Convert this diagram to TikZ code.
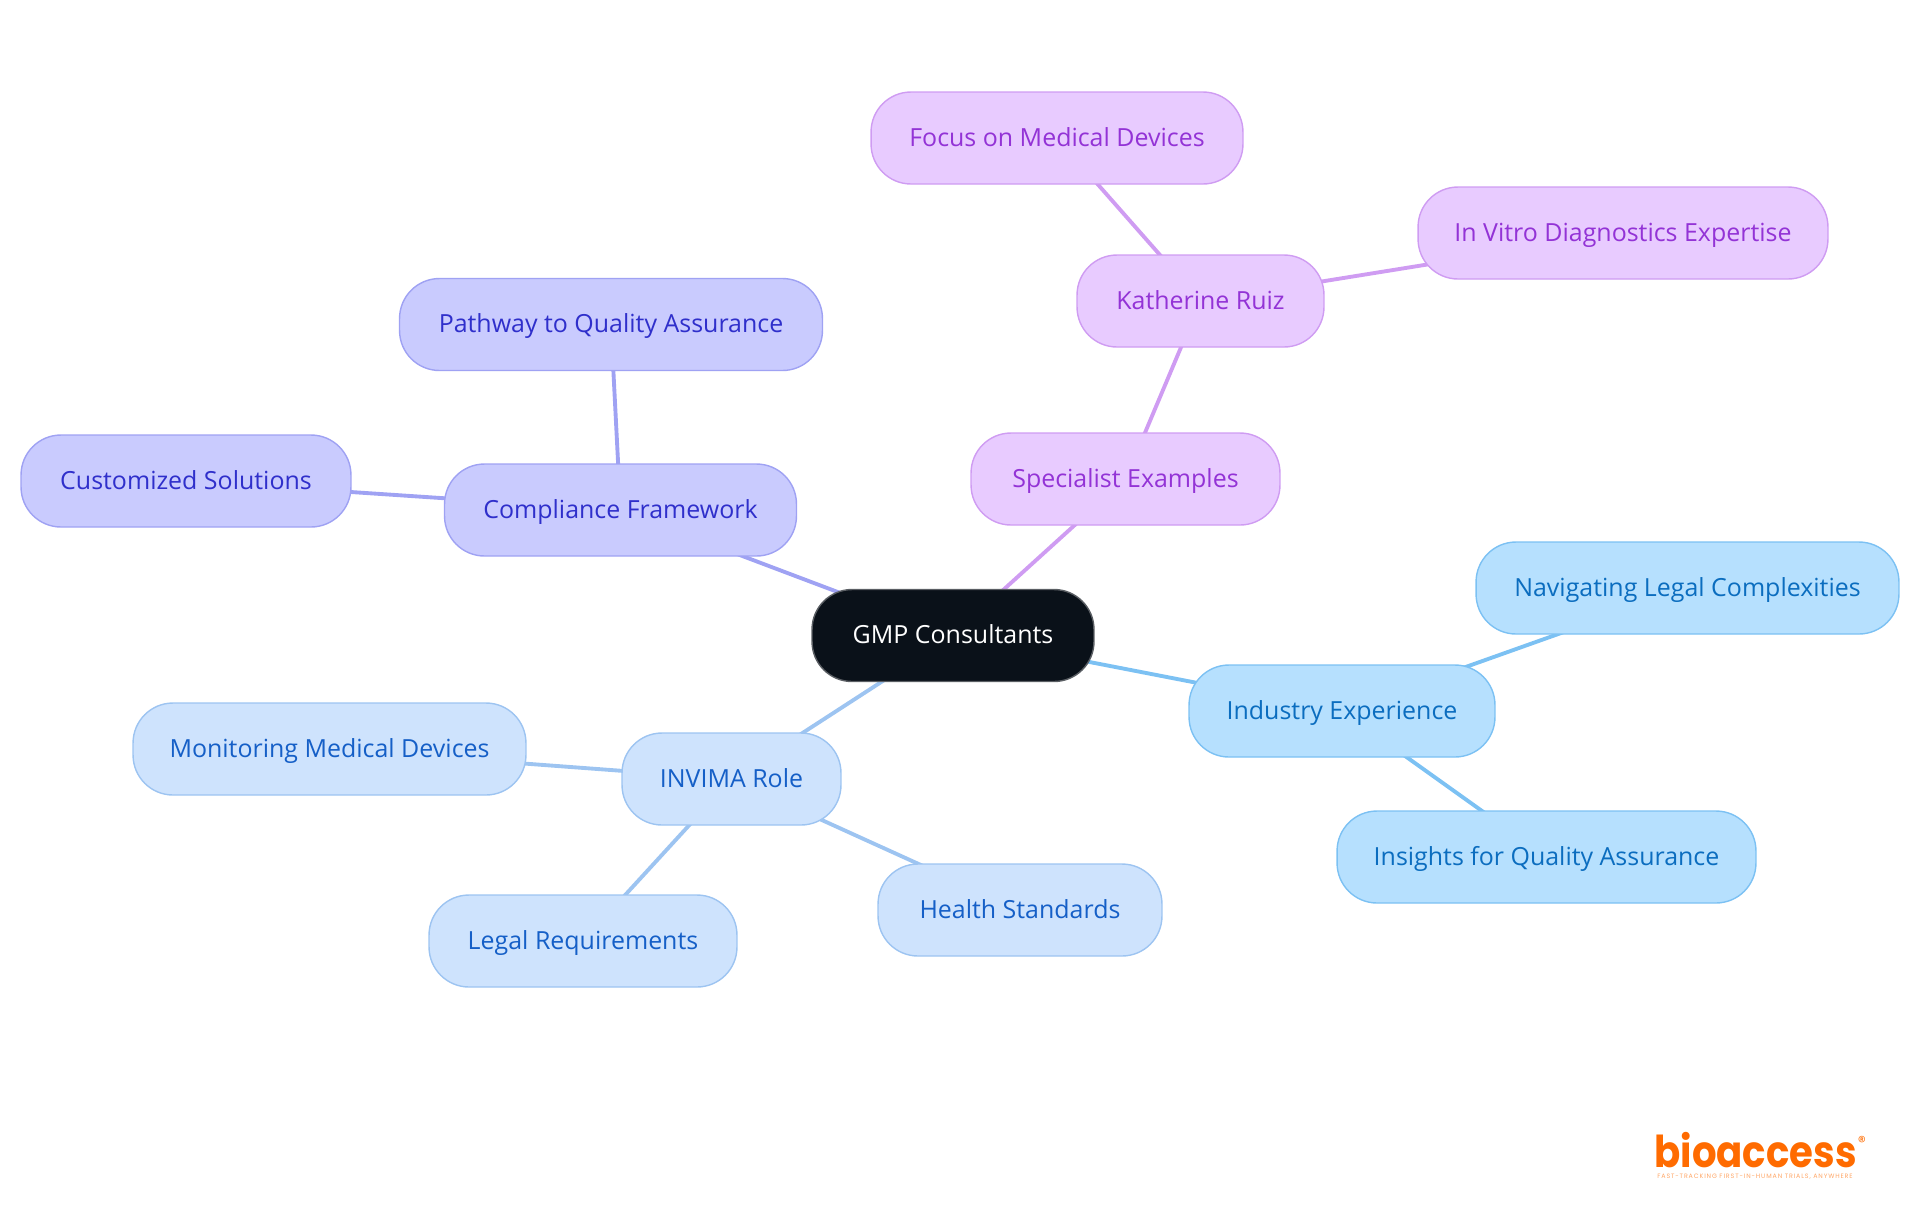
\documentclass[tikz,border=0pt]{standalone}
\usepackage{fontspec}
\setmainfont{Open Sans}
\newfontfamily\logofont{Poppins}
\newfontfamily\taglinefont[LetterSpace=13.7]{Poppins}
\usepackage{xcolor}
\usetikzlibrary{backgrounds, positioning}

\definecolor{rootfill}{HTML}{0A1119}
\definecolor{rootline}{HTML}{5A5E63}
\definecolor{indigofill}{HTML}{C9CBFE}
\definecolor{indigoline}{HTML}{9FA2F3}
\definecolor{indigotext}{HTML}{2F2FCB}
\definecolor{purplefill}{HTML}{E8CBFF}
\definecolor{purpleline}{HTML}{CF9CF2}
\definecolor{purpletext}{HTML}{9333D6}
\definecolor{skyfill}{HTML}{B6E0FE}
\definecolor{skyline}{HTML}{7CC1F3}
\definecolor{skytext}{HTML}{0B6DBF}
\definecolor{bluefill}{HTML}{CEE3FD}
\definecolor{blueline}{HTML}{9DC4F1}
\definecolor{bluetext}{HTML}{155FC7}
\definecolor{logoorange}{HTML}{FF6B00}

\tikzset{
    mapnode/.style={draw, line width=0.8pt, rounded corners=0.8cm, minimum height=1.84cm, inner sep=0pt, text height=0.42cm, text depth=0.1cm, font=\fontsize{14.2}{17}\selectfont},
    rootnode/.style={mapnode, fill=rootfill, draw=rootline, text=white},
    indigonode/.style={mapnode, fill=indigofill, draw=indigoline, text=indigotext},
    purplenode/.style={mapnode, fill=purplefill, draw=purpleline, text=purpletext},
    skynode/.style={mapnode, fill=skyfill, draw=skyline, text=skytext},
    bluenode/.style={mapnode, fill=bluefill, draw=blueline, text=bluetext},
    branch/.style={line width=2.2pt}
}

\begin{document}
\begin{tikzpicture}[x=0.02cm, y=-0.02cm]
    \useasboundingbox (0, 0) rectangle (1920, 1215);

    \node[rootnode, minimum width=5.64cm] (gmp) at (953, 635.5) {GMP Consultants};

    \node[indigonode, minimum width=7.04cm] (framework) at (620.5, 510) {Compliance Framework};
    \node[indigonode, minimum width=8.46cm] (pathway) at (611, 324.5) {Pathway to Quality Assurance};
    \node[indigonode, minimum width=6.6cm] (solutions) at (186, 481) {Customized Solutions};

    \node[purplenode, minimum width=6.18cm] (examples) at (1125.5, 479) {Specialist Examples};
    \node[purplenode, minimum width=4.94cm] (ruiz) at (1200.5, 301) {Katherine Ruiz};
    \node[purplenode, minimum width=7.44cm] (devices) at (1057, 138) {Focus on Medical Devices};
    \node[purplenode, minimum width=8.2cm] (vitro) at (1623, 233) {In Vitro Diagnostics Expertise};

    \node[skynode, minimum width=6.12cm] (experience) at (1342, 711) {Industry Experience};
    \node[skynode, minimum width=8.46cm] (legal) at (1687.5, 588) {Navigating Legal Complexities};
    \node[skynode, minimum width=8.38cm] (insights) at (1546.5, 857) {Insights for Quality Assurance};

    \node[bluenode, minimum width=4.38cm] (invima) at (731.5, 779) {INVIMA Role};
    \node[bluenode, minimum width=7.86cm] (monitoring) at (329.5, 749) {Monitoring Medical Devices};
    \node[bluenode, minimum width=5.68cm] (health) at (1020, 910) {Health Standards};
    \node[bluenode, minimum width=6.16cm] (requirements) at (583, 941) {Legal Requirements};

    \begin{scope}[on background layer]
        \draw[branch, draw=indigoline]
        (gmp.center) -- (framework.center)
        (framework.center) -- (pathway.center)
        (framework.center) -- (solutions.center);
        \draw[branch, draw=purpleline]
        (gmp.center) -- (examples.center)
        (examples.center) -- (ruiz.center)
        (ruiz.center) -- (devices.center)
        (ruiz.center) -- (vitro.center);
        \draw[branch, draw=skyline]
        (gmp.center) -- (experience.center)
        (experience.center) -- (legal.center)
        (experience.center) -- (insights.center);
        \draw[branch, draw=blueline]
        (gmp.center) -- (invima.center)
        (invima.center) -- (monitoring.center)
        (invima.center) -- (health.center)
        (invima.center) -- (requirements.center);
    \end{scope}

    % logo
    \node[inner sep=0pt, anchor=base, xscale=0.88, text=logoorange, font=\logofont\bfseries\fontsize{25}{25}\selectfont] (logo) at (1755.5, 1167) {bioaccess};
    \node[inner sep=0pt, text=logoorange, font=\logofont\fontsize{9}{9}\selectfont] (mark) at (1862, 1142) {®};
    \node[inner sep=0pt, text=logoorange!60, font=\taglinefont\fontsize{3.6}{4}\selectfont] (tagline) at (1755, 1177) {FAST-TRACKING FIRST-IN-HUMAN TRIALS, ANYWHERE};
\end{tikzpicture}
\end{document}
